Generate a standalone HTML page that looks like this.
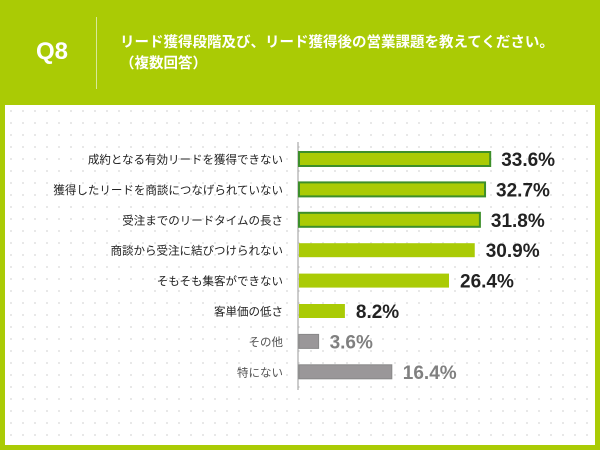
<!DOCTYPE html>
<html><head><meta charset="utf-8"><style>
body{margin:0;width:600px;height:450px;background:#aacb05;font-family:"Liberation Sans","Noto Sans CJK JP",sans-serif;position:relative;overflow:hidden}
#card{position:absolute;left:5px;top:105px;width:590px;height:340px;background:#fff;
background-image:radial-gradient(circle,#e4e4e4 0.8px,transparent 1.2px);background-size:12px 12px}
.q{position:absolute;left:36px;top:38px;color:#fff;font-weight:bold;font-size:24px}
.div{position:absolute;left:96px;top:17px;width:1px;height:72px;background:#d8e89a}
.t{position:absolute;left:120px;top:33px;color:#fff;font-weight:bold;font-size:14.5px;line-height:21px}
</style></head><body>
<div class="q">Q8</div>
<div class="div"></div>
<div class="t">リード獲得段階及び、リード獲得後の営業課題を教えてください。<br>（複数回答）</div>
<div id="card"></div>
<svg id="chart" width="600" height="450" style="position:absolute;left:0;top:0"></svg>
<script>
const categories=["成約となる有効リードを獲得できない","獲得したリードを商談につなげられていない","受注までのリードタイムの長さ","商談から受注に結びつけられない","そもそも集客ができない","客単価の低さ","その他","特にない"];
const values=[33.6,32.7,31.8,30.9,26.4,8.2,3.6,16.4];
const highlighted=[true,true,true,false,false,false,false,false];
const gray=[false,false,false,false,false,false,true,true];
const svg=document.getElementById('chart');
const NS='http://www.w3.org/2000/svg';
const x0=298,scale=5.72,y0=159,step=30.4,bh=14;
const x=v=>x0+v*scale, y=i=>y0+i*step;
function mk(t,a){const e=document.createElementNS(NS,t);for(const k in a)e.setAttribute(k,a[k]);svg.appendChild(e);return e;}
const ax=mk('line',{x1:x0,x2:x0,y1:142,y2:390,stroke:'#999','stroke-width':1});


categories.forEach((c,i)=>{
  const lb=mk('text',{x:283,y:y(i)+4.5,'text-anchor':'end','font-size':11.5,fill:gray[i]?'#555':'#222'});
  lb.textContent=c;
  
  
  const hl=highlighted[i];
  const r=mk('rect',{x:x0+1,y:y(i)-bh/2,width:x(values[i])-x0-1,height:bh,
    fill:gray[i]?'#9a9799':'#aacb05',stroke:hl?'#3d8f2a':(gray[i]?'#888':'none'),'stroke-width':hl?2:1});
  
  
  const vt=mk('text',{x:x(values[i])+11,y:y(i)+7,'font-size':19,'font-weight':'bold',fill:gray[i]?'#808080':'#222'});
  vt.textContent=values[i].toFixed(1)+'%';
  
  
});
</script>
</body></html>
